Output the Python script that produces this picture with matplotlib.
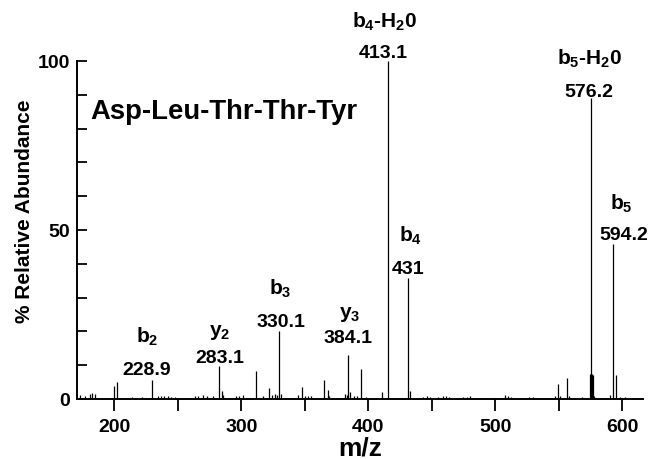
import matplotlib
matplotlib.use("Agg")
import matplotlib.pyplot as plt
from matplotlib.ticker import MultipleLocator

plt.rcParams['font.family'] = ['Liberation Sans', 'DejaVu Sans']
plt.rcParams['font.weight'] = 'bold'
plt.rcParams['mathtext.fontset'] = 'custom'
plt.rcParams['mathtext.rm'] = 'Liberation Sans:bold'
plt.rcParams['mathtext.it'] = 'Liberation Sans:bold'
plt.rcParams['mathtext.bf'] = 'Liberation Sans:bold'
plt.rcParams['mathtext.default'] = 'rm'

# peaks: m/z and % relative abundance
mz = [173.0, 176.9, 181.0, 182.5, 184.5, 200.0, 201.9, 213.7, 217.0, 221.6,
      229.5, 234.5, 237.0, 239.5, 242.0, 244.5, 247.5, 263.6, 266.0, 269.5,
      273.0, 277.8, 282.7, 284.6, 286.0, 296.0, 298.5, 301.6, 311.6, 317.4,
      321.9, 324.5, 326.5, 328.0, 329.8, 331.5, 345.0, 347.6, 350.0, 352.5,
      355.0, 365.5, 368.1, 369.5, 382.0, 383.0, 384.4, 386.0, 388.5, 391.0,
      394.4, 398.0, 411.1, 415.3, 431.2, 432.6, 443.5, 446.0, 449.0, 455.0,
      459.0, 461.5, 464.0, 474.5, 477.5, 480.5, 507.5, 510.0, 512.5, 527.0,
      529.5, 531.5, 547.5, 549.3, 551.0, 556.9, 558.5, 561.0, 566.0, 568.5,
      574.5, 575.2, 576.0, 576.8, 578.0, 590.5, 593.1, 595.2, 598.0, 602.0,
      606.0, 610.0, 614.0]
abundance = [1.3, 1.0, 1.5, 1.8, 1.6, 3.7, 5.0, 0.5, 0.4, 0.5,
             5.7, 0.8, 1.0, 0.9, 1.0, 0.7, 0.5, 1.0, 0.8, 1.2,
             0.9, 1.0, 9.7, 2.3, 1.2, 0.8, 1.0, 1.2, 8.4, 1.0,
             3.2, 1.2, 1.5, 1.2, 20.2, 1.4, 1.3, 3.5, 1.0, 0.8,
             0.8, 5.7, 2.8, 1.0, 1.5, 1.3, 13.1, 2.0, 1.0, 1.0,
             9.0, 0.6, 2.0, 100.0, 35.8, 2.3, 0.7, 0.8, 0.6, 0.6,
             0.8, 1.0, 0.7, 0.6, 0.5, 1.0, 1.2, 0.9, 0.7, 0.5,
             0.5, 0.4, 1.0, 4.4, 0.8, 6.1, 1.0, 0.4, 0.4, 0.5,
             7.4, 89.0, 7.4, 7.0, 0.8, 1.2, 46.0, 7.2, 0.5, 0.5,
             0.4, 0.4, 0.3]

# labelled fragment ions
ion_names = [r'b$_2$', r'y$_2$', r'b$_3$', r'y$_3$', r'b$_4$-H$_2$0',
             r'b$_4$', r'b$_5$-H$_2$0', r'b$_5$']
ion_values = ['228.9', '283.1', '330.1', '384.1', '413.1', '431', '576.2', '594.2']

# where the two label lines sit (m/z, % baseline)
name_pos = [(225.8, 16.9), (283.3, 18.9), (330.9, 31.1), (385.7, 24.3),
            (413.3, 110.1), (433.4, 46.8), (574.4, 99.1), (599.7, 56.2)]
value_pos = [(225.8, 7.4), (283.3, 10.9), (330.9, 21.6), (384.1, 16.9),
             (411.7, 101.2), (431.8, 37.3), (574.0, 89.6), (601.5, 47.3)]

fig = plt.figure(figsize=(6.65, 4.6), dpi=100)
ax = fig.add_axes([77 / 665, 60 / 460, 566 / 665, 338 / 460])

ax.vlines(mz, 0, abundance, colors='black', linewidth=0.9)

for name, value, (nx, ny), (vx, vy) in zip(ion_names, ion_values, name_pos, value_pos):
    ax.text(nx, ny, name, ha='center', va='baseline', fontsize=15, clip_on=False)
    ax.text(vx, vy, value, ha='center', va='baseline', fontsize=14, clip_on=False)

ax.text(180.9, 85.2, 'Asp-Leu-Thr-Thr-Tyr', ha='left', va='center', fontsize=19.8)

ax.set_xlim(170.6, 616.5)
ax.set_ylim(0, 100)
ax.spines['top'].set_visible(False)
ax.spines['right'].set_visible(False)
ax.spines['left'].set_linewidth(1.4)
ax.spines['bottom'].set_linewidth(1.4)

ax.xaxis.set_major_locator(MultipleLocator(100))
ax.xaxis.set_minor_locator(MultipleLocator(50))
ax.yaxis.set_major_locator(MultipleLocator(50))
ax.yaxis.set_minor_locator(MultipleLocator(10))
ax.tick_params(axis='x', which='both', direction='out', length=8.6, width=1.3,
               labelsize=14, pad=5)
ax.tick_params(axis='y', which='both', direction='in', length=7.2, width=1.3,
               labelsize=14, pad=5)

ax.text(0.5, -0.143, 'm/z', transform=ax.transAxes, ha='center', va='center', fontsize=19)
ax.text(-0.092, 0.558, '% Relative Abundance', transform=ax.transAxes,
        rotation=90, ha='center', va='center', fontsize=15)

fig.savefig('out.png', dpi=100)
